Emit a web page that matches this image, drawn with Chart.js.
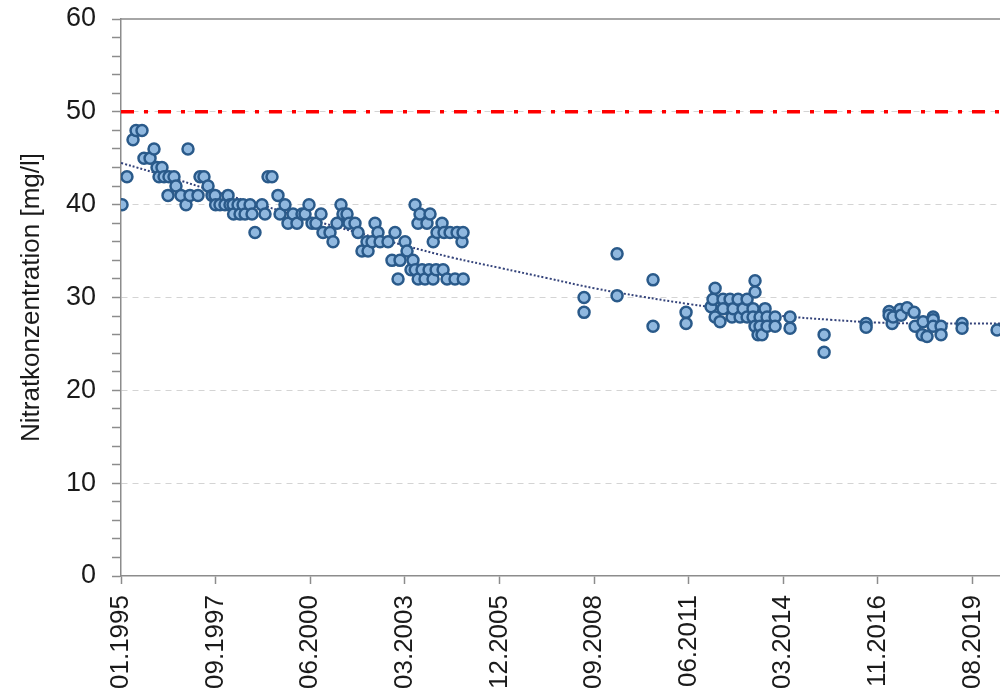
<!DOCTYPE html>
<html>
<head>
<meta charset="utf-8">
<script src="https://cdn.jsdelivr.net/npm/chart.js@4"></script>
<style>
  body { margin: 0; background: #fff; }
</style>
</head>
<body>
<canvas id="chart" width="1000" height="697"></canvas>
<script>
// Tage seit 01.01.1995 und Messwerte Nitrat [mg/l]
const tage = [
  11, 63, 127, 159, 222, 243, 307, 349, 381, 402, 433, 455, 497, 507, 560, 581,
  634, 687, 708, 729, 814, 835, 877, 920, 962, 994, 1000, 1046, 1099, 1131, 1152,
  1184, 1190, 1237, 1258, 1290, 1311, 1364, 1385, 1416, 1490, 1522, 1554, 1596,
  1659, 1681, 1733, 1765, 1818, 1860, 1913, 1945, 1987, 2019, 2061, 2114, 2135,
  2209, 2241, 2283, 2325, 2346, 2389, 2410, 2473, 2505, 2547, 2600, 2611, 2653,
  2685, 2716, 2738, 2822, 2864, 2896, 2928, 2949, 3002, 3023, 3065, 3086, 3108,
  3110, 3139, 3141, 3160, 3182, 3213, 3234, 3256, 3266, 3298, 3300, 3330, 3340,
  3393, 3404, 3414, 3446, 3478, 3530, 3552, 3604, 3615, 3617,
  4894, 4894, 5243, 5243, 5623, 5623, 5972, 5972,
  6236, 6257, 6279, 6279, 6331, 6363, 6363, 6437, 6458, 6469, 6522, 6543, 6575,
  6617, 6617, 6680, 6680, 6701, 6701, 6701, 6733, 6754, 6754, 6775, 6807, 6828,
  6828, 6913, 6913, 7071, 7071,
  7431, 7431, 7875, 7875, 8118, 8118, 8150, 8160, 8234, 8245, 8308, 8382, 8393,
  8467, 8477, 8519, 8583, 8583, 8583, 8667, 8667, 8889, 8889, 9259
];
const nitrat = [
  40, 43, 47, 48, 48, 45, 45, 46, 44, 43, 44, 43, 41, 43, 43, 42,
  41, 40, 46, 41, 41, 43, 43, 42, 41, 41, 40, 40, 40, 41, 40,
  40, 39, 40, 39, 40, 39, 40, 39, 37, 40, 39, 43, 43,
  41, 39, 40, 38, 39, 38, 39, 39, 40, 38, 38, 39, 37,
  37, 36, 38, 40, 39, 39, 38, 38, 37, 35, 36, 35, 36,
  38, 37, 36, 36, 34, 37, 32, 34, 36, 35, 33, 34, 40,
  33, 38, 32, 39, 33, 32, 38, 33, 39, 32, 36, 33, 37,
  38, 33, 37, 32, 37, 32, 37, 36, 37, 32,
  30.0, 28.4, 34.7, 30.2, 31.9, 26.9, 28.4, 27.2,
  29.0, 29.8, 31.0, 27.9, 27.4, 29.8, 28.8, 29.8, 27.9, 28.8, 29.8, 27.9, 28.8,
  29.8, 27.9, 28.8, 27.9, 31.8, 30.6, 26.9, 26.0, 27.9, 26.9, 26.0, 28.8, 27.9,
  26.9, 27.9, 26.9, 27.9, 26.7,
  26.0, 24.1, 27.2, 26.8, 28.5, 28.1, 27.2, 27.9, 28.7, 28.1, 28.9, 28.4, 26.9,
  26.0, 27.4, 25.8, 27.9, 27.6, 26.9, 26.9, 26.0, 27.2, 26.7, 26.5
];

// Trendlinie
const trendTage = [0, 500, 1000, 1500, 2000, 2500, 3000, 3500, 4000, 4500, 5000, 5500, 6000, 6500, 7000, 7500, 8000, 8500, 9290];
const trendWerte = [44.5, 43.0, 41.4, 39.9, 38.4, 37.0, 35.6, 34.3, 33.2, 32.1, 31.0, 30.1, 29.3, 28.6, 28.0, 27.6, 27.3, 27.2, 27.2];

const grenzwert = 50;
const xMax = 9290;
const xTickLabels = ['01.1995', '09.1997', '06.2000', '03.2003', '12.2005', '09.2008', '06.2011', '03.2014', '11.2016', '08.2019'];

Chart.defaults.font.family = '"Liberation Sans", Arial, sans-serif';
Chart.defaults.color = '#1a1a1a';

new Chart(document.getElementById('chart'), {
  type: 'scatter',
  data: {
    datasets: [
      {
        label: 'Nitrat',
        data: tage.map((t, i) => ({ x: t, y: nitrat[i] })),
        backgroundColor: '#90b8df',
        borderColor: '#2a5a8a',
        pointRadius: 5.5,
        pointBorderWidth: 2.5,
      },
      {
        type: 'line',
        label: 'Trend',
        data: trendTage.map((t, i) => ({ x: t, y: trendWerte[i] })),
        borderColor: '#34437a',
        borderWidth: 2,
        borderDash: [2, 2],
        pointRadius: 0,
        tension: 0.4,
        fill: false,
      },
      {
        type: 'line',
        label: 'Grenzwert',
        data: [{ x: 0, y: grenzwert }, { x: xMax, y: grenzwert }],
        borderColor: '#ff0000',
        borderWidth: 3.5,
        borderDash: [13, 10, 4, 10],
        pointRadius: 0,
        fill: false,
      },
    ],
  },
  options: {
    responsive: false,
    animation: false,
    layout: { autoPadding: false, padding: { top: 19, right: 0, left: 0, bottom: 0 } },
    plugins: {
      legend: { display: false },
      tooltip: { enabled: false },
    },
    scales: {
      x: {
        type: 'linear',
        min: 0,
        max: xMax,
        afterBuildTicks: (s) => {
          s.ticks = xTickLabels.map((_, i) => ({ value: i * 1000 }));
        },
        afterFit: (s) => {
          s.height = 121;
          s.paddingLeft = 0;
          s.paddingRight = 0;
        },
        ticks: {
          autoSkip: false,
          minRotation: 90,
          maxRotation: 90,
          padding: 11,
          font: { size: 26 },
          callback: (v) => xTickLabels[Math.round(v / 1000)],
        },
        grid: { drawOnChartArea: false, tickLength: 8, tickColor: '#8c8c8c', tickWidth: 1.5 },
        border: { color: '#8c8c8c', width: 1.5 },
      },
      xTop: {
        type: 'linear',
        position: 'top',
        min: 0,
        max: xMax,
        afterFit: (s) => {
          s.height = 0;
          s.paddingLeft = 0;
          s.paddingRight = 0;
        },
        ticks: { display: false },
        grid: { display: false, drawTicks: false },
        border: { display: true, color: '#a6a6a6', width: 2 },
      },
      y: {
        min: 0,
        max: 60,
        afterFit: (s) => {
          s.width = 121;
          s.paddingTop = 0;
          s.paddingBottom = 0;
        },
        ticks: {
          stepSize: 2,
          autoSkip: false,
          padding: 16,
          font: { size: 27 },
          callback: (v) => (v % 10 === 0 ? v : ''),
        },
        grid: {
          color: (ctx) => {
            const v = ctx.tick ? ctx.tick.value : 0;
            return v % 10 === 0 && v > 0 && v < 60 ? '#d4d4d4' : 'rgba(0,0,0,0)';
          },
          lineWidth: 1,
          tickLength: 9,
          tickColor: '#8c8c8c',
          tickWidth: 1.5,
        },
        border: { color: '#8c8c8c', width: 1.5, dash: [6, 5] },
        title: {
          display: true,
          text: 'Nitratkonzentration [mg/l]',
          font: { size: 26 },
          padding: { top: 16, bottom: 0 },
        },
      },
    },
  },
});
</script>
</body>
</html>
